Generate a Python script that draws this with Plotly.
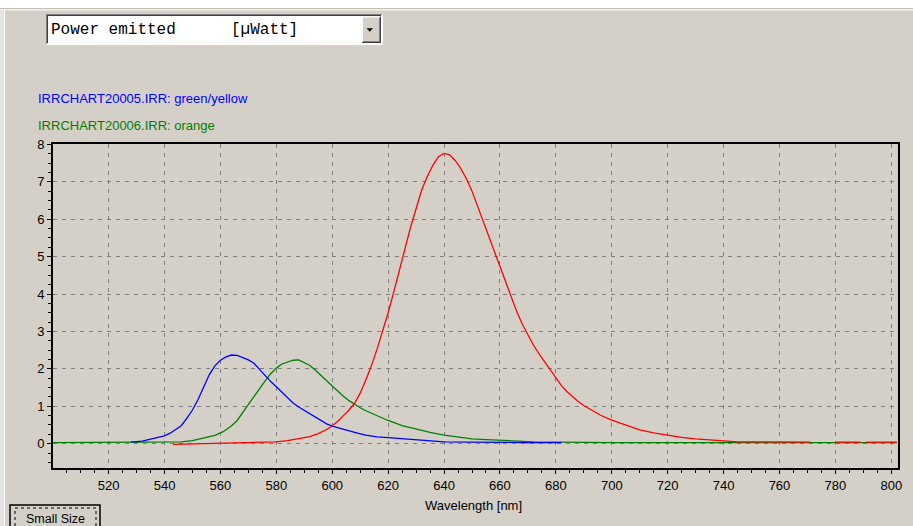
import plotly.graph_objects as go

# ---------------- data ----------------
wl_blue = [528, 532, 535, 538, 540, 542, 544, 546, 548, 550, 552, 554, 556, 558, 560,
           562, 564, 566, 568, 570, 572, 574, 576, 578, 580, 582, 584, 586, 588, 590,
           592, 594, 596, 598, 600, 603, 606, 609, 612, 616, 620, 625, 630, 635, 640,
           650, 660, 670, 682]
pw_blue = [0.04, 0.07, 0.12, 0.17, 0.21, 0.28, 0.38, 0.48, 0.68, 0.90, 1.18, 1.50, 1.84, 2.08, 2.23,
           2.32, 2.37, 2.36, 2.31, 2.24, 2.15, 1.98, 1.80, 1.66, 1.52, 1.37, 1.22, 1.09, 0.98, 0.89,
           0.80, 0.72, 0.62, 0.53, 0.47, 0.40, 0.34, 0.28, 0.23, 0.18, 0.16, 0.13, 0.10, 0.07, 0.05,
           0.04, 0.03, 0.03, 0.03]

wl_green = [500, 540, 546, 550, 554, 558, 561, 564, 566, 568, 570, 572, 574, 576, 578,
            580, 582, 584, 586, 588, 590, 592, 594, 596, 598, 600, 602, 604, 606, 608,
            610, 612, 616, 620, 625, 630, 635, 640, 645, 650, 655, 660, 665, 672, 682,
            700, 802]
pw_green = [0.03, 0.03, 0.05, 0.08, 0.14, 0.22, 0.32, 0.48, 0.62, 0.82, 1.05, 1.26, 1.48, 1.68, 1.87,
            2.02, 2.13, 2.19, 2.23, 2.24, 2.17, 2.09, 1.96, 1.83, 1.68, 1.54, 1.40, 1.27, 1.15, 1.05,
            0.96, 0.88, 0.75, 0.62, 0.48, 0.38, 0.30, 0.23, 0.17, 0.13, 0.11, 0.09, 0.07, 0.05, 0.04,
            0.03, 0.03]

wl_red = [543, 550, 555, 565, 575, 580, 584, 588, 592, 595, 598, 600, 602, 604, 606,
          608, 610, 612, 614, 616, 618, 620, 622, 624, 626, 628, 630, 632, 634, 636,
          638, 640, 642, 644, 646, 648, 650, 652, 654, 656, 658, 660, 662, 664, 666,
          668, 670, 672, 674, 676, 678, 680, 682, 684, 686, 688, 690, 693, 696, 700,
          705, 710, 715, 720, 725, 730, 735, 740, 745, 771, 775, 780, 789, 790, 791, 802]
pw_red = [-0.02, -0.01, 0.01, 0.01, 0.03, 0.05, 0.08, 0.13, 0.19, 0.27, 0.38, 0.48, 0.60, 0.75, 0.90,
          1.08, 1.35, 1.70, 2.08, 2.52, 3.00, 3.50, 4.05, 4.62, 5.22, 5.78, 6.28, 6.78, 7.14, 7.44,
          7.67, 7.76, 7.72, 7.57, 7.35, 7.08, 6.75, 6.35, 5.95, 5.52, 5.10, 4.70, 4.30, 3.90, 3.53,
          3.19, 2.89, 2.63, 2.40, 2.18, 1.96, 1.74, 1.55, 1.39, 1.25, 1.13, 1.02, 0.88, 0.76, 0.63,
          0.50, 0.37, 0.29, 0.22, 0.17, 0.13, 0.10, 0.08, 0.05, 0.04, None, 0.04, 0.04, None, 0.04, 0.04]

series_labels = ["IRRCHART20005.IRR: green/yellow", "IRRCHART20006.IRR: orange"]
x_tick_vals = [520, 540, 560, 580, 600, 620, 640, 660, 680, 700, 720, 740, 760, 780, 800]
y_tick_vals = [0, 1, 2, 3, 4, 5, 6, 7, 8]

# ---------------- layout helpers ----------------
W, H = 913, 526
ML, MR, MT, MB = 53, 15, 144, 58
PW = W - ML - MR
PH = H - MT - MB
BG = "#D4D0C8"
FONT = "Liberation Sans"


def fx(p):
    return (p - ML) / PW


def fy(p):
    return (H - MB - p) / PH


def rect(x0, y0, x1, y1, fill, line_color=None, line_width=0, dash=None):
    d = dict(type="rect", xref="paper", yref="paper",
             x0=fx(x0), x1=fx(x1), y0=fy(y0), y1=fy(y1),
             fillcolor=fill, layer="above",
             line=dict(width=line_width, color=line_color or fill))
    if dash:
        d["line"]["dash"] = dash
    return d


fig = go.Figure()
fig.add_trace(go.Scatter(x=wl_green, y=pw_green, mode="lines",
                         line=dict(color="#008000", width=1.3), hoverinfo="skip"))
fig.add_trace(go.Scatter(x=wl_blue, y=pw_blue, mode="lines",
                         line=dict(color="#0000FF", width=1.3), hoverinfo="skip"))
fig.add_trace(go.Scatter(x=wl_red, y=pw_red, mode="lines", connectgaps=False,
                         line=dict(color="#FF0000", width=1.3), hoverinfo="skip"))

shapes = [
    # window edges
    rect(0, 0, 913, 8, "#FFFFFF"),
    rect(0, 8, 913, 9, "#C4C0B8"),
    rect(0, 9, 913, 10.5, "#F2F1EE"),
    rect(0, 10, 4, 526, "#E6E4E0"),
    rect(4, 10, 5, 526, "#FFFFFF"),
    # dropdown box
    rect(46, 14, 383, 45, "#FFFFFF"),
    rect(46, 14, 382, 15, "#808080"),
    rect(46, 14, 47, 44, "#808080"),
    rect(47, 15, 381, 16, "#404040"),
    rect(47, 15, 48, 43, "#404040"),
    # dropdown arrow button
    rect(362, 16.5, 381, 43, BG),
    rect(362, 16.5, 380, 17.5, "#FFFFFF"),
    rect(362, 16.5, 363, 42, "#FFFFFF"),
    rect(380, 16.5, 381, 43, "#404040"),
    rect(362, 42, 381, 43, "#404040"),
    rect(379, 17.5, 380, 42, "#808080"),
    rect(363, 41, 380, 42, "#808080"),
    dict(type="path", xref="paper", yref="paper", layer="above",
         path=f"M {fx(366.5)} {fy(28.3)} L {fx(373)} {fy(28.3)} L {fx(369.75)} {fy(31.8)} Z",
         fillcolor="#000000", line=dict(width=0)),
    # Small Size button
    rect(10, 505, 100, 532, BG, "#000000", 1.5),
    rect(15, 508, 96, 532, BG, "#000000", 1, "dot"),
]

annotations = [
    dict(text="Power emitted", x=fx(49), y=fy(29.5), xref="paper", yref="paper",
         xanchor="left", yanchor="middle", showarrow=False,
         font=dict(family="Liberation Mono", size=16, color="#000000")),
    dict(text="[µWatt]", x=fx(229), y=fy(29.5), xref="paper", yref="paper",
         xanchor="left", yanchor="middle", showarrow=False,
         font=dict(family="Liberation Mono", size=16, color="#000000")),
    dict(text=series_labels[0], x=fx(36), y=fy(98.5), xref="paper", yref="paper",
         xanchor="left", yanchor="middle", showarrow=False,
         font=dict(family=FONT, size=13, color="#0000FF")),
    dict(text=series_labels[1], x=fx(36), y=fy(125.5), xref="paper", yref="paper",
         xanchor="left", yanchor="middle", showarrow=False,
         font=dict(family=FONT, size=13, color="#008000")),
    dict(text="Wavelength [nm]", x=fx(473.5), y=fy(505), xref="paper", yref="paper",
         xanchor="center", yanchor="middle", showarrow=False,
         font=dict(family=FONT, size=13, color="#000000")),
    dict(text="Small Size", x=fx(55), y=fy(518.5), xref="paper", yref="paper",
         xanchor="center", yanchor="middle", showarrow=False,
         font=dict(family=FONT, size=12.5, color="#000000")),
]

fig.update_layout(
    width=W, height=H,
    margin=dict(l=ML, r=MR, t=MT, b=MB, pad=0),
    paper_bgcolor=BG, plot_bgcolor=BG,
    showlegend=False,
    font=dict(family=FONT, size=13, color="#000000"),
    shapes=shapes,
    annotations=annotations,
    xaxis=dict(range=[500.1, 802.4], tickmode="array", tickvals=x_tick_vals,
               showgrid=True, gridcolor="#808080", griddash="4px,5px", gridwidth=1,
               zeroline=False, showline=True, linecolor="#000000", linewidth=2, mirror=True,
               ticks="outside", ticklen=4, tickwidth=1, tickcolor="#000000",
               minor=dict(dtick=5, tick0=500, ticks="outside", ticklen=3, tickcolor="#000000",
                          showgrid=False),
               tickfont=dict(family=FONT, size=13, color="#000000")),
    yaxis=dict(range=[-0.65, 8.01], tickmode="array", tickvals=y_tick_vals,
               showgrid=True, gridcolor="#808080", griddash="4px,5px", gridwidth=1,
               zeroline=False, showline=True, linecolor="#000000", linewidth=2, mirror=True,
               ticks="outside", ticklen=4, tickwidth=1, tickcolor="#000000",
               minor=dict(dtick=0.25, tick0=0, ticks="outside", ticklen=3, tickcolor="#000000",
                          showgrid=False),
               tickfont=dict(family=FONT, size=13, color="#000000")),
)

fig.write_html(
    "out.html",
    config={"displayModeBar": False},
    post_script="document.body.style.margin='0';document.body.style.overflow='hidden';",
)
